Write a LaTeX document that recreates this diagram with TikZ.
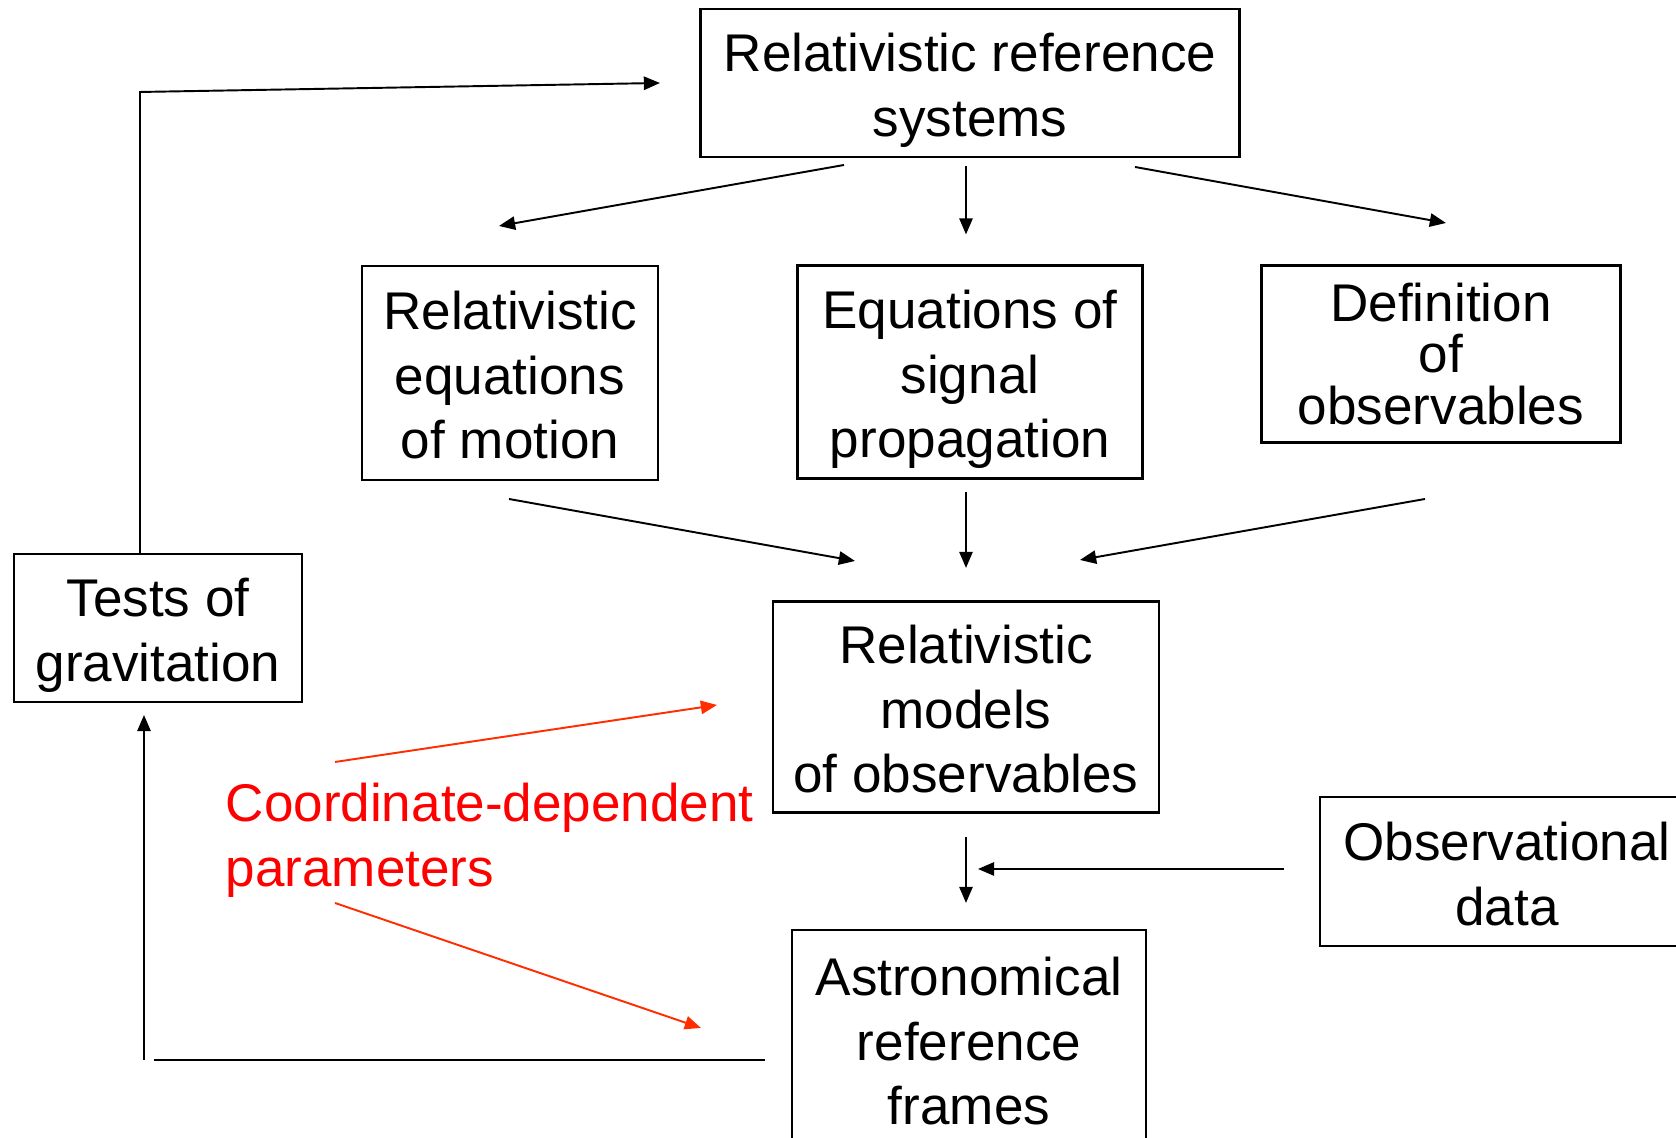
\documentclass[tikz,border=0pt]{standalone}
\usepackage{fontspec}
\setmainfont{Liberation Sans}
\usetikzlibrary{arrows.meta}
\definecolor{paramred}{RGB}{255,0,0}
\definecolor{linkred}{RGB}{255,45,0}
\newcommand{\lstrut}{\rule[-0.2em]{0pt}{1.2em}}

\begin{document}
\begin{tikzpicture}[
  box/.style={draw, line width=0.6pt, align=center, inner sep=0pt,
    font=\fontsize{15.1}{18.4}\selectfont},
  arr/.style={-{Triangle[length=4.6pt,width=3.8pt]}, line width=0.55pt},
  redarr/.style={arr, linkred}
]
\clip (0,0) rectangle (16.76,11.38);

% Top box
\node[box, minimum width=5.39cm, minimum height=1.48cm] (sys) at (9.70,10.55) {\lstrut Relativistic reference\\\lstrut systems};

% Middle row
\node[box, minimum width=2.96cm, minimum height=2.14cm] (motion) at (5.10,7.65) {\lstrut Relativistic\\equations\\\lstrut of motion};
\node[box, minimum width=3.45cm, minimum height=2.13cm] (signal) at (9.70,7.66) {\lstrut Equations of\\signal\\\lstrut propagation};
\node[box, minimum width=3.59cm, minimum height=1.77cm, font=\fontsize{15.1}{14.7}\selectfont] (defin) at (14.41,7.84) {Definition\\of\\observables};

% Models and frames
\node[box, minimum width=3.86cm, minimum height=2.11cm] (models) at (9.66,4.31) {\lstrut Relativistic\\models\\\lstrut of observables};
\node[box, minimum width=3.54cm, minimum height=2.18cm] (frames) at (9.69,0.99) {\lstrut Astronomical\\reference\\\lstrut frames};

% Side boxes
\node[box, minimum width=2.88cm, minimum height=1.48cm] (tests) at (1.58,5.10) {\lstrut Tests of\\\lstrut gravitation};
\node[box, minimum width=3.74cm, minimum height=1.49cm] (obs) at (15.07,2.665) {\lstrut Observational\\\lstrut data};

% Red label
\node[anchor=west, inner sep=0pt, align=left, paramred, font=\fontsize{15.1}{18.4}\selectfont] (param) at (2.25,2.98) {Coordinate-dependent\\parameters};

% Arrow ends
\coordinate (s1) at (8.44,9.73);
\coordinate (m1) at (4.99,9.12);
\coordinate (s3) at (11.35,9.71);
\coordinate (d1) at (14.46,9.15);
\coordinate (m2) at (5.09,6.39);
\coordinate (r1) at (8.55,5.77);
\coordinate (d2) at (14.25,6.39);
\coordinate (r3) at (10.80,5.78);
\coordinate (join) at (9.78,2.69);
\coordinate (p1) at (3.35,3.76);
\coordinate (q1) at (7.17,4.33);
\coordinate (p2) at (3.35,2.35);
\coordinate (q2) at (7.01,1.10);
\coordinate (fa) at (1.54,0.78);
\coordinate (fb) at (7.65,0.78);
\coordinate (ga) at (1.44,0.78);
\coordinate (tb) at (1.40,10.46);
\coordinate (tc) at (6.60,10.55);

% Reference systems to the three theories
\draw[arr] (s1) -- (m1);
\draw[arr, shorten <=0.08cm, shorten >=0.30cm] (sys.south -| models.north) -- (signal.north -| models.north);
\draw[arr] (s3) -- (d1);

% Theories to models
\draw[arr] (m2) -- (r1);
\draw[arr, shorten <=0.125cm, shorten >=0.325cm] (signal.south -| models.north) -- (models.north);
\draw[arr] (d2) -- (r3);

% Models to frames, data joining in
\draw[arr, shorten <=0.235cm, shorten >=0.26cm] (models.south) -- (models.south |- frames.north);
\draw[arr, shorten <=0.35cm] (obs.west |- join) -- (join);

% Parameters
\draw[redarr] (p1) -- (q1);
\draw[redarr] (p2) -- (q2);

% Feedback loop
\draw[line width=0.55pt] (fa) -- (fb);
\draw[arr, shorten >=0.12cm] (ga) -- (ga |- tests.south);
\draw[arr] (tests.north -| tb) -- (tb) -- (tc);

\end{tikzpicture}
\end{document}
